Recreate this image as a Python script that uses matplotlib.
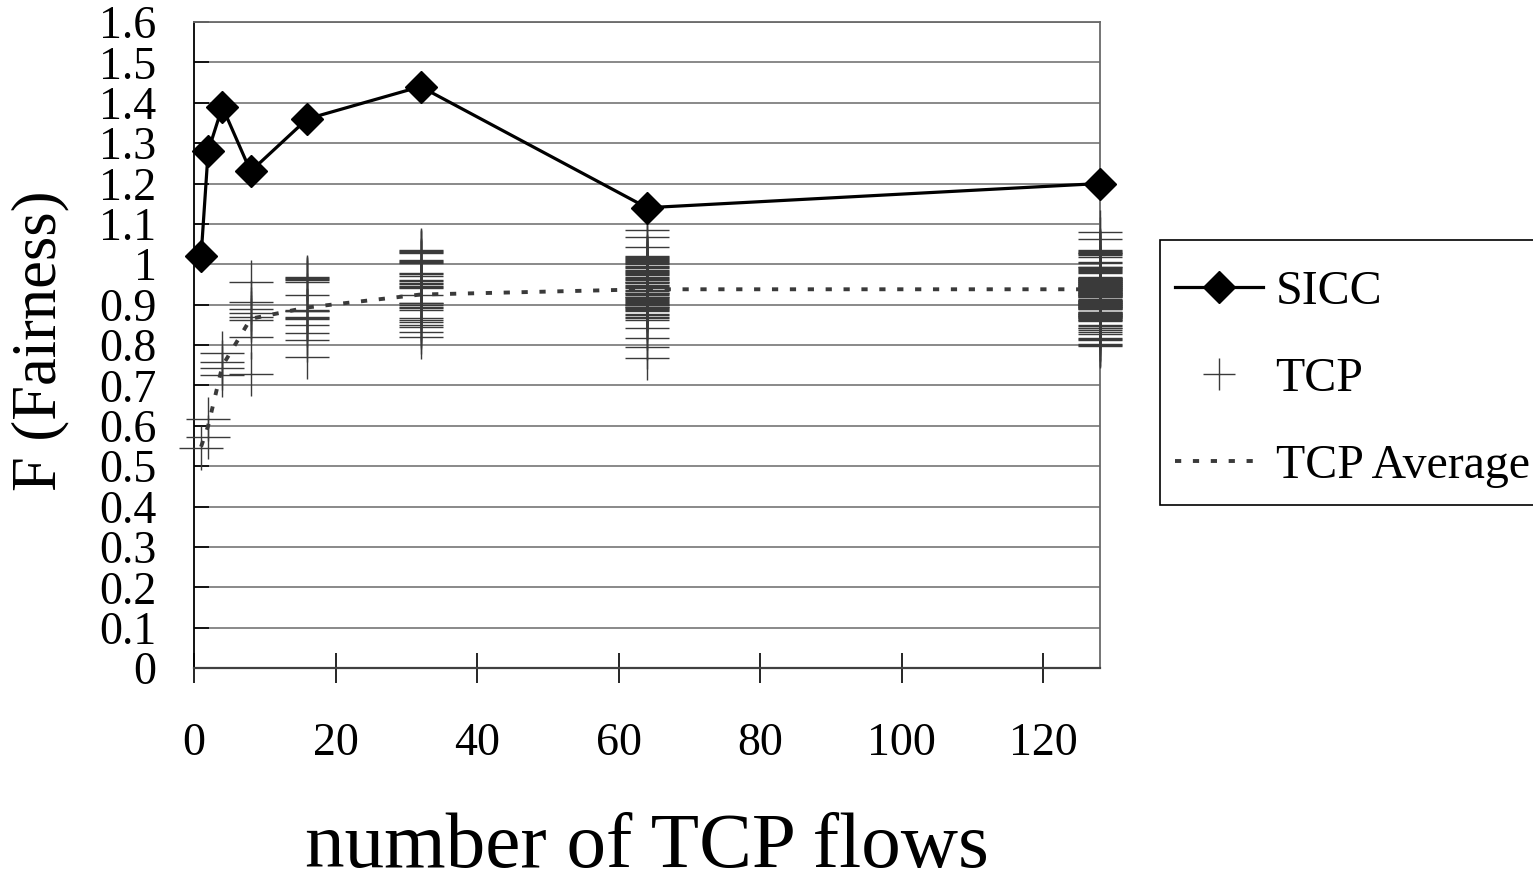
import matplotlib
matplotlib.use("Agg")
import matplotlib.pyplot as plt
from matplotlib.lines import Line2D
from matplotlib.patches import Rectangle

plt.rcParams['font.family'] = ['Liberation Serif', 'DejaVu Serif']

# number of TCP flows
flows = [1, 2, 4, 8, 16, 32, 64, 128]

# SICC fairness
sicc = [1.02, 1.28, 1.39, 1.23, 1.36, 1.44, 1.14, 1.20]

# average of the TCP flows
tcp_avg = [0.548, 0.60, 0.748, 0.865, 0.893, 0.925, 0.938, 0.938]

# fairness of every single TCP flow
tcp_1 = [0.545]
tcp_2 = [0.617, 0.571]
tcp_4 = [0.779, 0.759, 0.742, 0.726]
tcp_8 = [0.957, 0.907, 0.888, 0.880, 0.870, 0.862, 0.821, 0.728]
tcp_16 = [0.969, 0.966, 0.963, 0.960, 0.957, 0.924, 0.887, 0.885,
          0.883, 0.869, 0.867, 0.865, 0.850, 0.829, 0.812, 0.771]
tcp_32 = [1.035, 1.033, 1.030, 1.027, 1.011, 1.008, 1.005, 1.002,
          0.978, 0.975, 0.971, 0.961, 0.958, 0.953, 0.950, 0.946,
          0.943, 0.940, 0.924, 0.905, 0.903, 0.899, 0.895, 0.891,
          0.887, 0.866, 0.862, 0.858, 0.850, 0.845, 0.833, 0.821]
tcp_64 = [1.085, 1.068, 1.043,
          1.020, 1.018, 1.015, 1.012, 1.010, 1.009, 1.005, 1.002, 1.000,
          0.995, 0.992, 0.990, 0.986, 0.984, 0.982, 0.978, 0.975, 0.973, 0.969, 0.965,
          0.963, 0.961, 0.957, 0.955, 0.953, 0.949, 0.946, 0.944, 0.940, 0.936, 0.934, 0.930,
          0.928, 0.926, 0.923, 0.920, 0.918, 0.917, 0.914, 0.911, 0.909, 0.907, 0.904,
          0.901, 0.900, 0.898, 0.895, 0.893, 0.891,
          0.889, 0.887, 0.884, 0.878, 0.875, 0.870, 0.866, 0.862,
          0.841, 0.817, 0.796, 0.767]
tcp_128 = [1.081, 1.062,
           1.035, 1.033, 1.031, 1.029, 1.027, 1.025, 1.022, 1.019,
           1.006, 1.004,
           0.994, 0.992, 0.990, 0.988, 0.986, 0.984, 0.981, 0.979,
           0.968, 0.967, 0.966, 0.965, 0.964, 0.963, 0.962, 0.961, 0.960, 0.959,
           0.958, 0.957, 0.956, 0.955, 0.954, 0.953, 0.952, 0.951, 0.950, 0.949,
           0.948, 0.947, 0.946, 0.945, 0.944, 0.943, 0.942, 0.941, 0.940, 0.939,
           0.938, 0.937, 0.936, 0.935, 0.934, 0.933, 0.932, 0.931, 0.930, 0.929,
           0.928, 0.927, 0.926, 0.925, 0.924, 0.923, 0.922, 0.921, 0.920, 0.918,
           0.913, 0.912, 0.911, 0.910, 0.909, 0.908, 0.907, 0.906, 0.905, 0.904,
           0.903, 0.902, 0.901, 0.900, 0.899, 0.898, 0.897, 0.896, 0.895, 0.894,
           0.893, 0.892, 0.891, 0.890, 0.888,
           0.882, 0.881, 0.880, 0.879, 0.878, 0.877, 0.876, 0.875, 0.874, 0.873,
           0.872, 0.871, 0.870, 0.869, 0.868, 0.866, 0.865, 0.863, 0.862, 0.860,
           0.850, 0.847, 0.843, 0.842, 0.837, 0.832, 0.827,
           0.817, 0.816, 0.812, 0.802, 0.801, 0.797]
tcp_all = [tcp_1, tcp_2, tcp_4, tcp_8, tcp_16, tcp_32, tcp_64, tcp_128]

yticks = [i / 10 for i in range(17)]
ytick_labels = ['%g' % v for v in yticks]
xticks = [0, 20, 40, 60, 80, 100, 120]

tcp_color = '#3a3a3a'
grid_color = '#6a6a6a'
avg_style = (0, (1.6, 3.0))

fig = plt.figure(figsize=(15.33, 8.85), dpi=100)
ax = fig.add_axes([194 / 1533, 1 - 668 / 885, 906 / 1533, 646 / 885])

ax.set_xlim(0, 128)
ax.set_ylim(0, 1.6)

for n, vals in zip(flows, tcp_all):
    ax.plot([n] * len(vals), vals, linestyle='none', marker='+', ms=31.5,
            mew=1.0, color=tcp_color, clip_on=False, zorder=3)

ax.plot(flows, tcp_avg, color=tcp_color, lw=2.8, linestyle=avg_style,
        clip_on=False, zorder=4)
ax.plot(flows, sicc, color='black', lw=2.3, marker='D', ms=16, mew=1,
        clip_on=False, zorder=5)

ax.set_yticks(yticks)
ax.set_yticklabels(ytick_labels)
ax.set_xticks(xticks)
ax.yaxis.grid(True, color=grid_color, lw=1.1)
ax.set_axisbelow(True)
ax.tick_params(axis='y', direction='in', length=11, width=1.2, pad=27,
               labelsize=33, color='black')
ax.tick_params(axis='x', direction='inout', length=22, width=1.2, pad=28,
               labelsize=33, color='black')

ax.spines['left'].set_color('black')
ax.spines['left'].set_linewidth(1.3)
ax.spines['bottom'].set_color('#404040')
ax.spines['bottom'].set_linewidth(1.6)
for side in ('top', 'right'):
    ax.spines[side].set_color(grid_color)
    ax.spines[side].set_linewidth(1.3)

fig.text(40 / 1533, 1 - 341 / 885, 'F (Fairness)', rotation=90,
         ha='center', va='center', fontsize=45)
fig.text(647 / 1533, 1 - 867 / 885, 'number of TCP flows',
         ha='center', va='baseline', fontsize=57)

# legend box, it runs past the right edge of the figure like the original
fig.patches.append(Rectangle((1160 / 1533, 1 - 505 / 885), 400 / 1533, 265 / 885,
                             transform=fig.transFigure, facecolor='white',
                             edgecolor='black', lw=1.2, zorder=1))

handles = [
    Line2D([], [], color='black', lw=2.3, marker='D', ms=16, mew=1),
    Line2D([], [], linestyle='none', marker='+', ms=23, mew=1.0, color=tcp_color),
    Line2D([], [], color=tcp_color, lw=2.8, linestyle=avg_style),
]
leg = fig.legend(handles, ['SICC', 'TCP', 'TCP Average'], loc='upper left',
                 bbox_to_anchor=(1175 / 1533, 1 - 270 / 885), borderaxespad=0,
                 fontsize=34.5, handlelength=1.83, handletextpad=0.27,
                 labelspacing=0.9, borderpad=0, frameon=False)

fig.savefig('out.png', dpi=100)
